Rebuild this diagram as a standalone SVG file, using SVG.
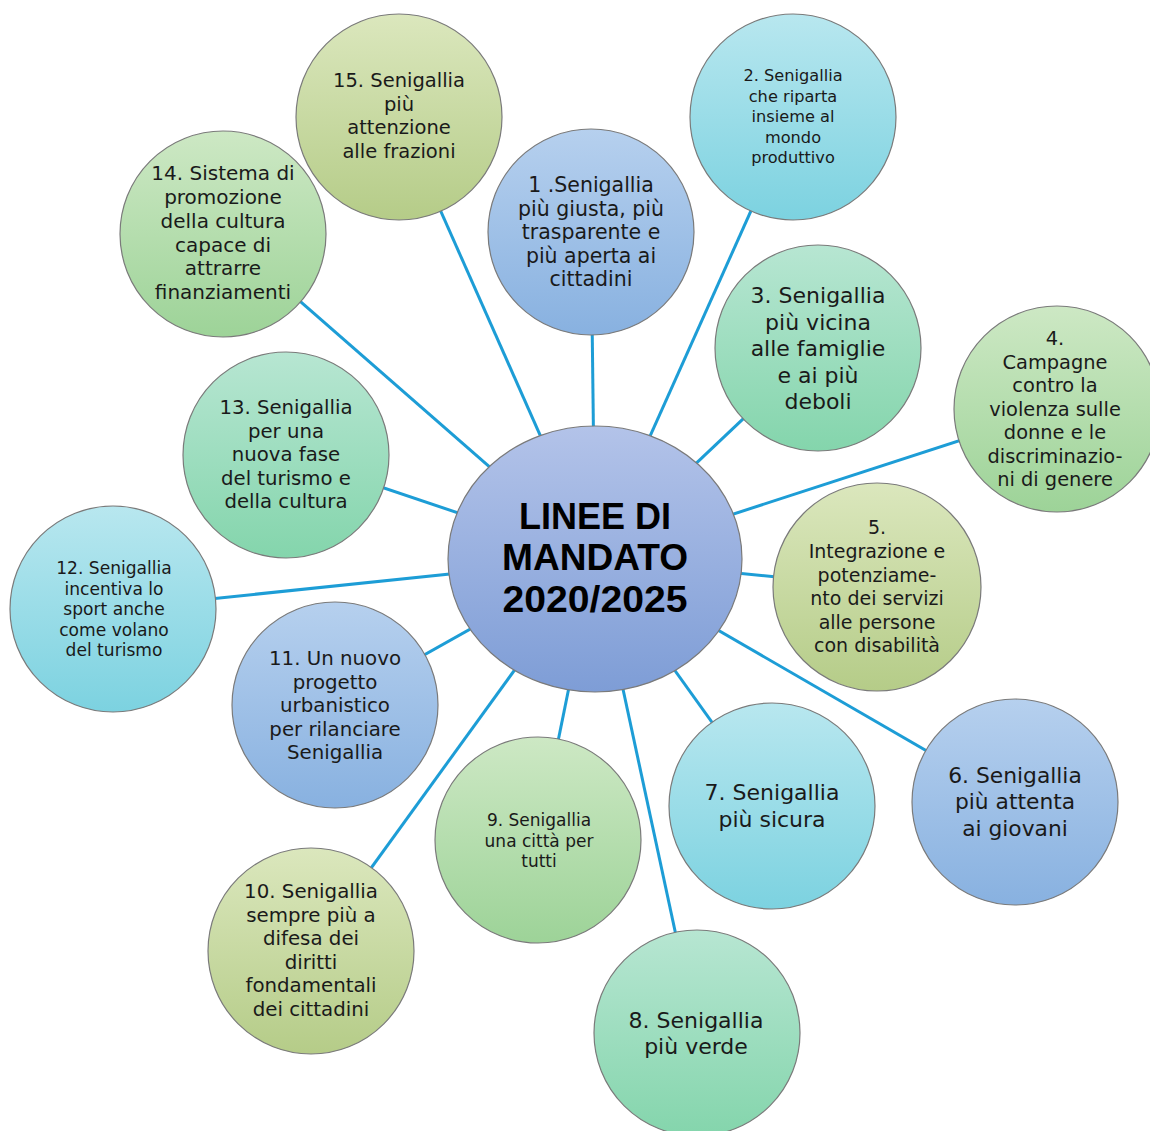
<svg xmlns="http://www.w3.org/2000/svg" width="1150" height="1131" viewBox="0 0 1150 1131">
<defs>
<linearGradient id="gBlue" x1="0" y1="0" x2="0" y2="1"><stop offset="0" stop-color="#b6d0ee"/><stop offset="1" stop-color="#88b1e0"/></linearGradient>
<linearGradient id="gCyan" x1="0" y1="0" x2="0" y2="1"><stop offset="0" stop-color="#b8e7ef"/><stop offset="1" stop-color="#7cd2e0"/></linearGradient>
<linearGradient id="gTeal" x1="0" y1="0" x2="0" y2="1"><stop offset="0" stop-color="#b7e6d2"/><stop offset="1" stop-color="#84d5ac"/></linearGradient>
<linearGradient id="gGreen" x1="0" y1="0" x2="0" y2="1"><stop offset="0" stop-color="#cde8c4"/><stop offset="1" stop-color="#9dd398"/></linearGradient>
<linearGradient id="gOlive" x1="0" y1="0" x2="0" y2="1"><stop offset="0" stop-color="#dbe7bd"/><stop offset="1" stop-color="#b5cc88"/></linearGradient>
<linearGradient id="gCenter" x1="0" y1="0" x2="0" y2="1"><stop offset="0" stop-color="#b3c3e9"/><stop offset="1" stop-color="#7e9dd6"/></linearGradient>
</defs>
<style>
.n{stroke:#7a7a7a;stroke-width:1.2}
.t{font-family:"DejaVu Sans",sans-serif;fill:#1a1a1a;text-anchor:middle}
.c{font-family:"Liberation Sans",sans-serif;font-weight:bold;font-size:36px;fill:#000;text-anchor:middle}
.e line{stroke:#1d9dd6;stroke-width:3}
</style>
<rect width="1150" height="1131" fill="#ffffff"/>
<g id="connectors" class="e">
<line x1="595" y1="559" x2="591" y2="232"/>
<line x1="595" y1="559" x2="793" y2="117"/>
<line x1="595" y1="559" x2="818" y2="348"/>
<line x1="595" y1="559" x2="1057" y2="409"/>
<line x1="595" y1="559" x2="877" y2="587"/>
<line x1="595" y1="559" x2="1015" y2="802"/>
<line x1="595" y1="559" x2="772" y2="806"/>
<line x1="595" y1="559" x2="697" y2="1033"/>
<line x1="595" y1="559" x2="538" y2="840"/>
<line x1="595" y1="559" x2="311" y2="951"/>
<line x1="595" y1="559" x2="335" y2="705"/>
<line x1="595" y1="559" x2="113" y2="609"/>
<line x1="595" y1="559" x2="286" y2="455"/>
<line x1="595" y1="559" x2="223" y2="234"/>
<line x1="595" y1="559" x2="399" y2="117"/>
</g>
<g id="center">
<ellipse class="n" cx="595" cy="559" rx="147" ry="133" fill="url(#gCenter)"/>
<text class="c" x="595" y="529">LINEE DI</text>
<text class="c" x="595" y="570" textLength="186" lengthAdjust="spacingAndGlyphs">MANDATO</text>
<text class="c" x="595" y="612" textLength="185" lengthAdjust="spacingAndGlyphs">2020/2025</text>
</g>
<g id="node1">
<circle class="n" cx="591" cy="232" r="103" fill="url(#gBlue)"/>
<text class="t" font-size="20.5"><tspan x="591" y="192">1 .Senigallia</tspan><tspan x="591" y="215.5">più giusta, più</tspan><tspan x="591" y="239">trasparente e</tspan><tspan x="591" y="262.5">più aperta ai</tspan><tspan x="591" y="286">cittadini</tspan></text>
</g>
<g id="node2">
<circle class="n" cx="793" cy="117" r="103" fill="url(#gCyan)"/>
<text class="t" font-size="16.2"><tspan x="793" y="81">2. Senigallia</tspan><tspan x="793" y="101.5">che riparta</tspan><tspan x="793" y="122">insieme al</tspan><tspan x="793" y="142.5">mondo</tspan><tspan x="793" y="163">produttivo</tspan></text>
</g>
<g id="node3">
<circle class="n" cx="818" cy="348" r="103" fill="url(#gTeal)"/>
<text class="t" font-size="22"><tspan x="818" y="303">3. Senigallia</tspan><tspan x="818" y="329.5">più vicina</tspan><tspan x="818" y="356">alle famiglie</tspan><tspan x="818" y="382.5">e ai più</tspan><tspan x="818" y="409">deboli</tspan></text>
</g>
<g id="node4">
<circle class="n" cx="1057" cy="409" r="103" fill="url(#gGreen)"/>
<text class="t" font-size="19.4"><tspan x="1055" y="345">4.</tspan><tspan x="1055" y="368.5">Campagne</tspan><tspan x="1055" y="392">contro la</tspan><tspan x="1055" y="415.5">violenza sulle</tspan><tspan x="1055" y="439">donne e le</tspan><tspan x="1055" y="462.5">discriminazio-</tspan><tspan x="1055" y="486">ni di genere</tspan></text>
</g>
<g id="node5">
<circle class="n" cx="877" cy="587" r="104" fill="url(#gOlive)"/>
<text class="t" font-size="19"><tspan x="877" y="534">5.</tspan><tspan x="877" y="558">Integrazione e</tspan><tspan x="877" y="582">potenziame-</tspan><tspan x="877" y="605">nto dei servizi</tspan><tspan x="877" y="629">alle persone</tspan><tspan x="877" y="652">con disabilità</tspan></text>
</g>
<g id="node6">
<circle class="n" cx="1015" cy="802" r="103" fill="url(#gBlue)"/>
<text class="t" font-size="21.8"><tspan x="1015" y="783">6. Senigallia</tspan><tspan x="1015" y="809">più attenta</tspan><tspan x="1015" y="836">ai giovani</tspan></text>
</g>
<g id="node7">
<circle class="n" cx="772" cy="806" r="103" fill="url(#gCyan)"/>
<text class="t" font-size="22"><tspan x="772" y="800">7. Senigallia</tspan><tspan x="772" y="827">più sicura</tspan></text>
</g>
<g id="node8">
<circle class="n" cx="697" cy="1033" r="103" fill="url(#gTeal)"/>
<text class="t" font-size="22"><tspan x="696" y="1028">8. Senigallia</tspan><tspan x="696" y="1054">più verde</tspan></text>
</g>
<g id="node9">
<circle class="n" cx="538" cy="840" r="103" fill="url(#gGreen)"/>
<text class="t" font-size="17"><tspan x="539" y="826">9. Senigallia</tspan><tspan x="539" y="847">una città per</tspan><tspan x="539" y="867">tutti</tspan></text>
</g>
<g id="node10">
<circle class="n" cx="311" cy="951" r="103" fill="url(#gOlive)"/>
<text class="t" font-size="19.8"><tspan x="311" y="898">10. Senigallia</tspan><tspan x="311" y="922">sempre più a</tspan><tspan x="311" y="945">difesa dei</tspan><tspan x="311" y="969">diritti</tspan><tspan x="311" y="992">fondamentali</tspan><tspan x="311" y="1016">dei cittadini</tspan></text>
</g>
<g id="node11">
<circle class="n" cx="335" cy="705" r="103" fill="url(#gBlue)"/>
<text class="t" font-size="19.8"><tspan x="335" y="665">11. Un nuovo</tspan><tspan x="335" y="689">progetto</tspan><tspan x="335" y="712">urbanistico</tspan><tspan x="335" y="736">per rilanciare</tspan><tspan x="335" y="759">Senigallia</tspan></text>
</g>
<g id="node12">
<circle class="n" cx="113" cy="609" r="103" fill="url(#gCyan)"/>
<text class="t" font-size="17.1"><tspan x="114" y="574">12. Senigallia</tspan><tspan x="114" y="595">incentiva lo</tspan><tspan x="114" y="615">sport anche</tspan><tspan x="114" y="636">come volano</tspan><tspan x="114" y="656">del turismo</tspan></text>
</g>
<g id="node13">
<circle class="n" cx="286" cy="455" r="103" fill="url(#gTeal)"/>
<text class="t" font-size="19.7"><tspan x="286" y="414">13. Senigallia</tspan><tspan x="286" y="438">per una</tspan><tspan x="286" y="461">nuova fase</tspan><tspan x="286" y="485">del turismo e</tspan><tspan x="286" y="508">della cultura</tspan></text>
</g>
<g id="node14">
<circle class="n" cx="223" cy="234" r="103" fill="url(#gGreen)"/>
<text class="t" font-size="20"><tspan x="223" y="180">14. Sistema di</tspan><tspan x="223" y="204">promozione</tspan><tspan x="223" y="228">della cultura</tspan><tspan x="223" y="252">capace di</tspan><tspan x="223" y="275">attrarre</tspan><tspan x="223" y="299">finanziamenti</tspan></text>
</g>
<g id="node15">
<circle class="n" cx="399" cy="117" r="103" fill="url(#gOlive)"/>
<text class="t" font-size="19.5"><tspan x="399" y="87">15. Senigallia</tspan><tspan x="399" y="111">più</tspan><tspan x="399" y="134">attenzione</tspan><tspan x="399" y="158">alle frazioni</tspan></text>
</g>
</svg>
